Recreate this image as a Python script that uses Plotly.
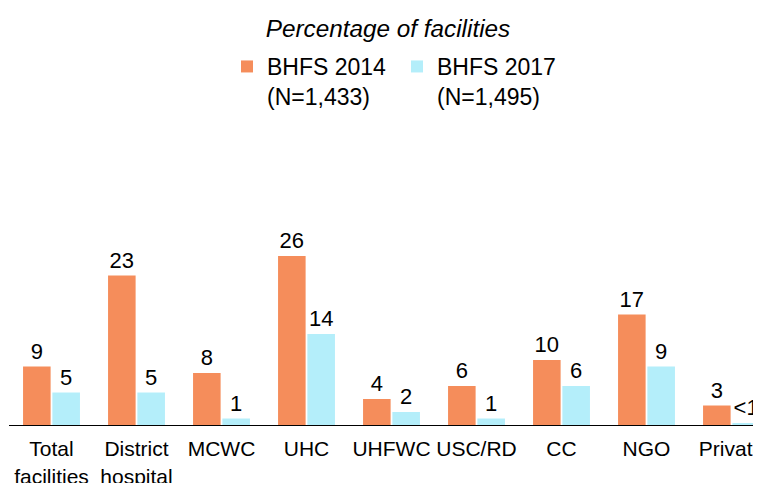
import plotly.graph_objects as go

categories = ["Total<br>facilities", "District<br>hospital", "MCWC", "UHC", "UHFWC",
              "USC/RD", "CC", "NGO", "Private"]
bhfs_2014 = [9, 23, 8, 26, 4, 6, 10, 17, 3]
bhfs_2017 = [5, 5, 1, 14, 2, 1, 6, 9, 0.2]
series_names = ["BHFS 2014<br>(N=1,433)", "BHFS 2017<br>(N=1,495)"]
colors = ["#F58D5B", "#B4EEFA"]


def fmt(v):
    return "<1" if v < 1 else f"{v:.0f}"


OFF = 8  # page body margin
W, H = 761 - OFF, 483 - OFF
L, R, T, B = 9 - OFF, 0, 230 - OFF, 58
cat_px = 85.0
plot_w = W - L - R
plot_h = H - T - B

fig = go.Figure()
for name, vals, col in zip(series_names, [bhfs_2014, bhfs_2017], colors):
    fig.add_trace(go.Bar(
        x=categories, y=vals, name=name, marker=dict(color=col, line=dict(width=0)),
        text=[fmt(v) for v in vals], textposition="outside",
        textfont=dict(size=22, color="#000000"), constraintext="none",
        cliponaxis=False,
    ))

fig.update_layout(
    width=W, height=H,
    margin=dict(l=L, r=R, t=T, b=B, pad=0, autoexpand=False),
    paper_bgcolor="white", plot_bgcolor="white",
    font=dict(family="Liberation Sans, Arial, sans-serif", color="#000000"),
    barmode="group", bargap=0.31, bargroupgap=0.06,
    title=dict(text="<i>Percentage of facilities</i>", x=(388 - OFF) / W, xanchor="center",
               xref="container", yref="container", y=1 - (28 - OFF) / H, yanchor="middle",
               font=dict(size=24.3, color="#000000"), automargin=False),
    legend=dict(orientation="h", x=(227 - OFF - L) / plot_w, xanchor="left",
                y=1 + (T - (45 - OFF)) / plot_h, yanchor="top", valign="top",
                entrywidth=125, entrywidthmode="pixels",
                font=dict(size=23, color="#000000"), bgcolor="rgba(0,0,0,0)",
                itemclick=False, traceorder="normal", tracegroupgap=0),
    showlegend=True,
)
fig.update_xaxes(range=[-0.5, -0.5 + plot_w / cat_px], showline=True, linecolor="#000000",
                 linewidth=1, ticks="", showgrid=False, zeroline=False,
                 ticklabelstandoff=5, automargin=False,
                 tickfont=dict(size=21, color="#000000"), fixedrange=True)
fig.update_yaxes(range=[0, plot_h / 6.5], visible=False, showgrid=False,
                 zeroline=False, fixedrange=True, automargin=False)

fig.write_html("out.html")
